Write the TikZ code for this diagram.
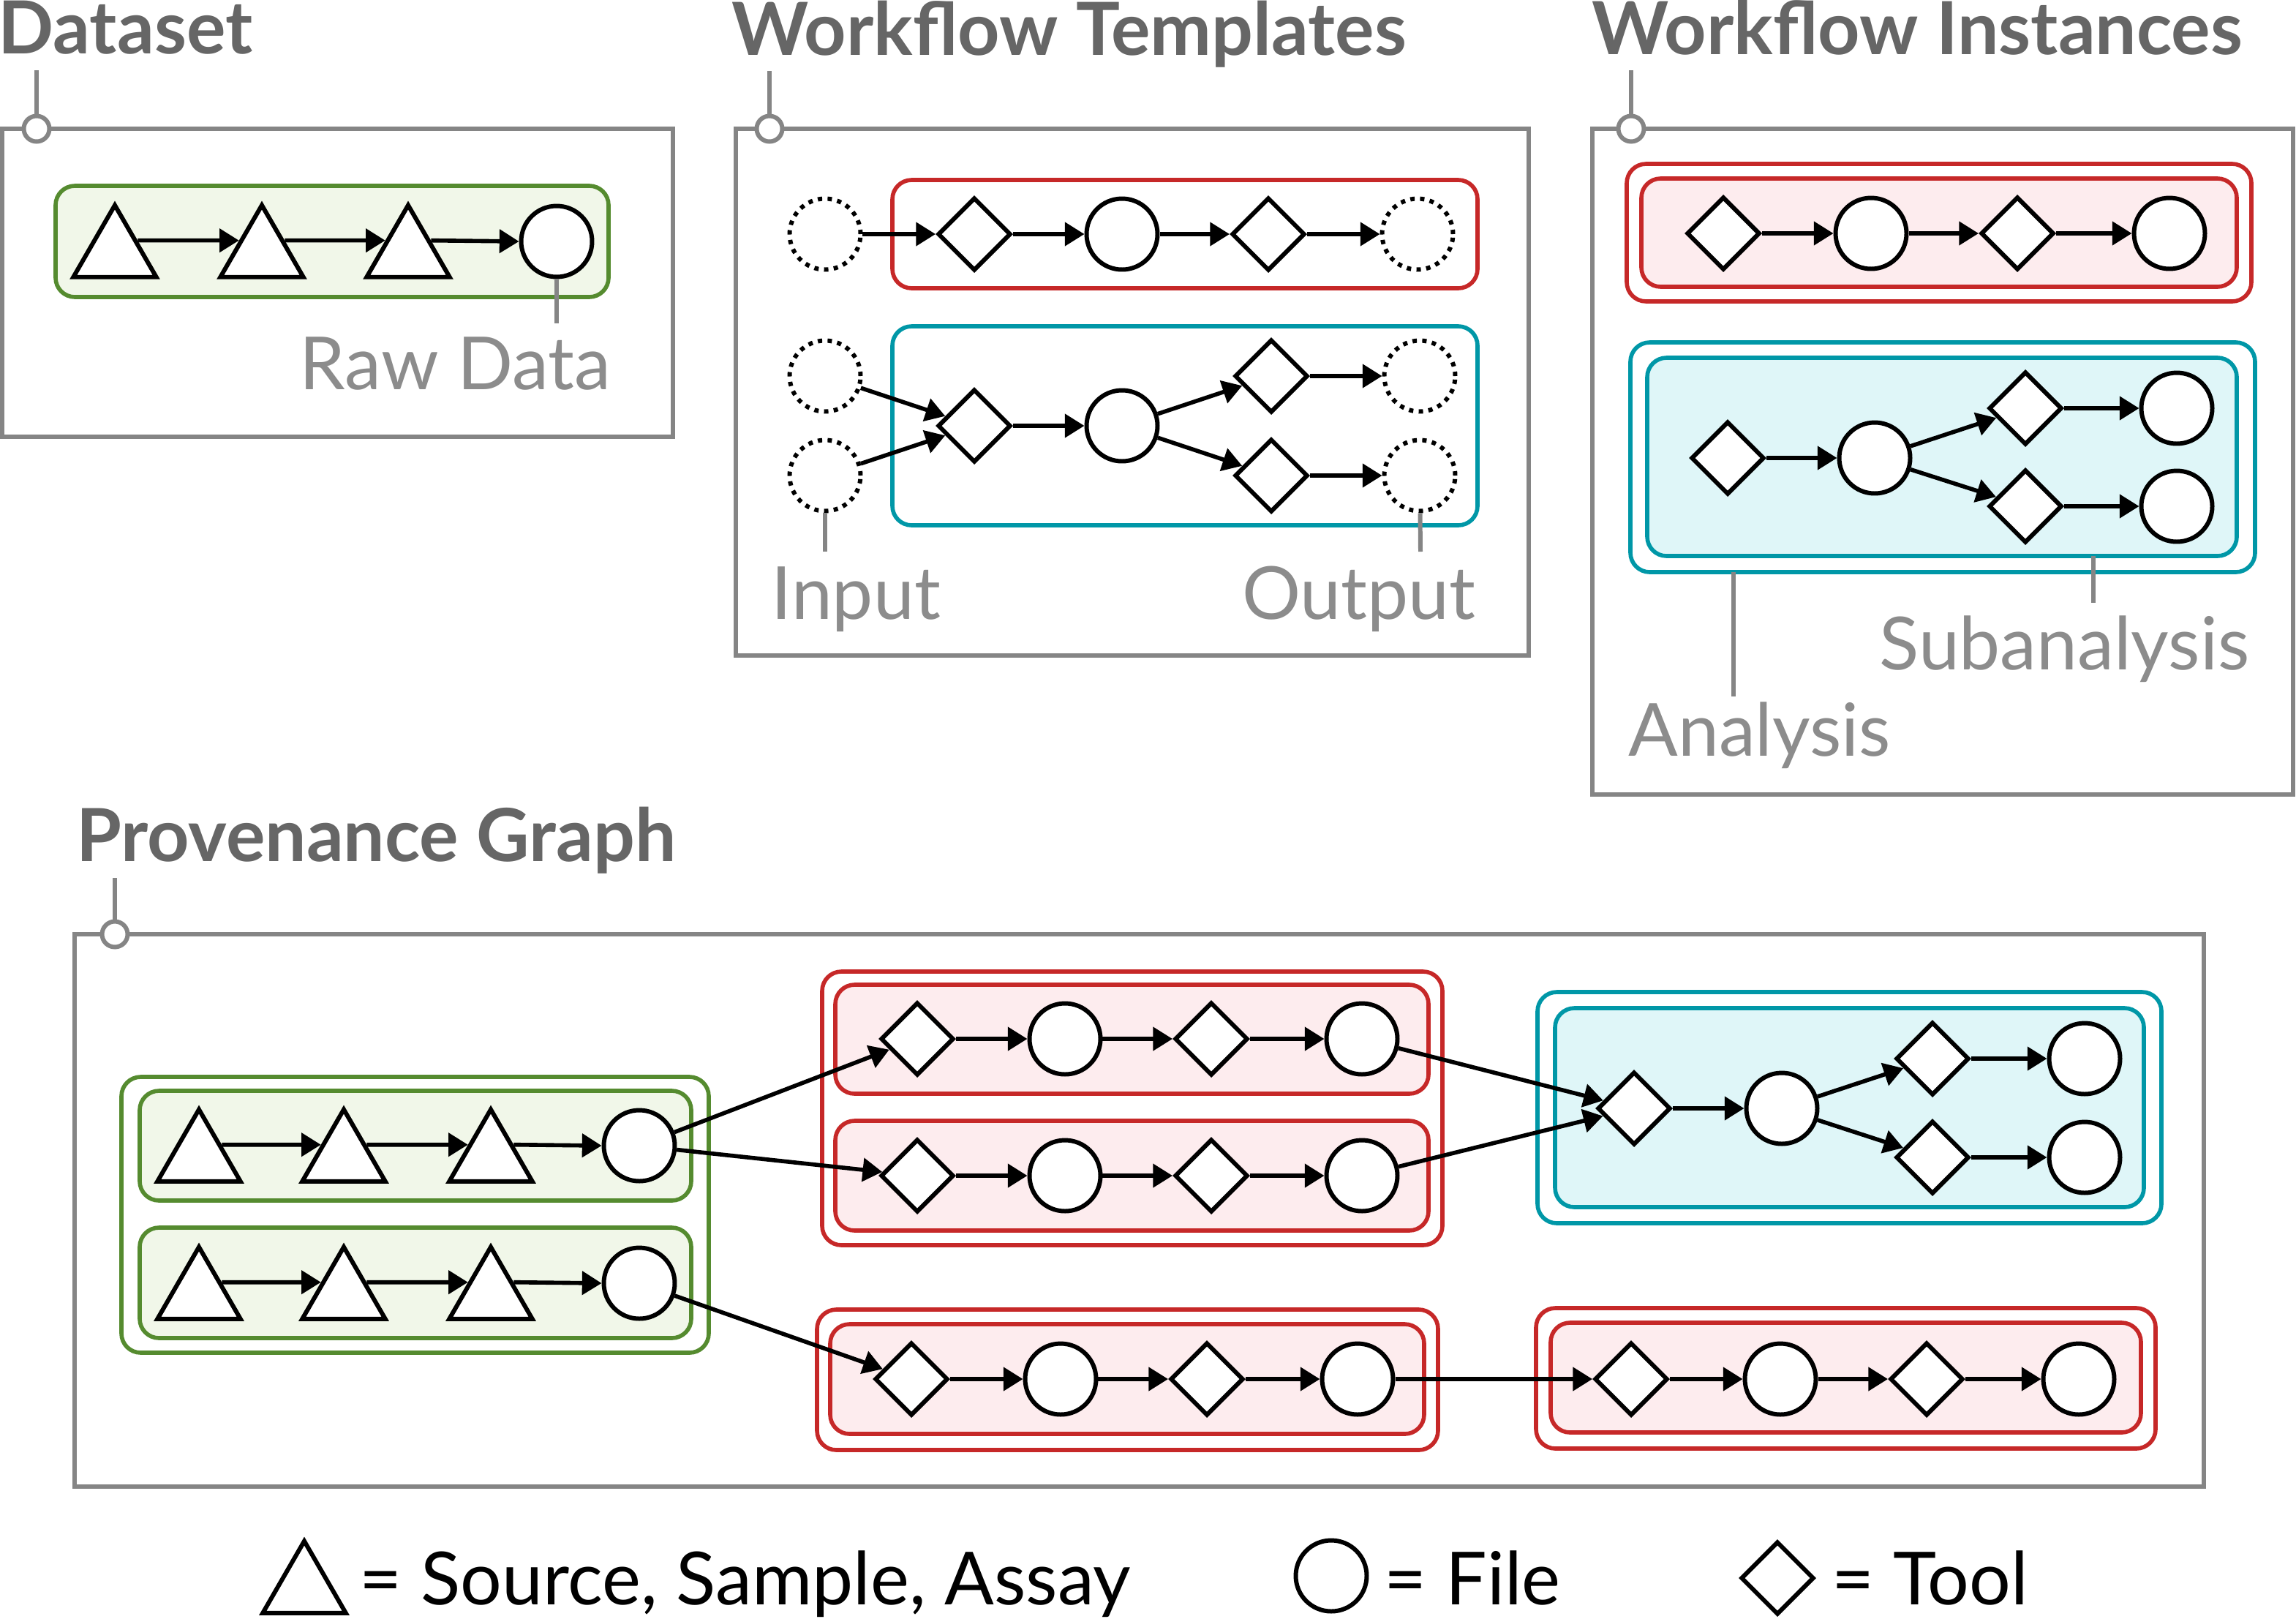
\documentclass[tikz,border=0pt]{standalone}
\usepackage{fontspec}
\setmainfont{Lato}
\usetikzlibrary{shapes.geometric,arrows.meta}
\definecolor{panelgray}{HTML}{858585}
\definecolor{headgray}{HTML}{666666}
\definecolor{notegray}{HTML}{8C8C8C}
\definecolor{wfred}{HTML}{C62828}
\definecolor{wfredfill}{HTML}{FDECEE}
\definecolor{wfteal}{HTML}{0097A7}
\definecolor{wftealfill}{HTML}{DFF6F8}
\definecolor{dsgreen}{HTML}{558B2F}
\definecolor{dsgreenfill}{HTML}{F1F7E9}
\begin{document}
\begin{tikzpicture}[x=0.02cm, y=-0.02cm,
  entity/.style={draw, fill=white, line width=1.7pt, regular polygon, regular polygon sides=3, minimum size=1.31cm, inner sep=0pt},
  file/.style={draw, fill=white, line width=1.7pt, circle, minimum size=0.97cm, inner sep=0pt},
  tool/.style={draw, fill=white, line width=1.7pt, diamond, minimum size=1cm, inner sep=0pt},
  slot/.style={draw, line width=1.7pt, dash pattern=on 1.7pt off 2.1pt, circle, minimum size=0.97cm, inner sep=0pt},
  arr/.style={-{Triangle[length=7.6pt, width=9pt]}, line width=1.6pt, black},
  panel/.style={draw=panelgray, line width=1.7pt},
  leader/.style={draw=panelgray, line width=1.7pt},
  knob/.style={circle, draw=panelgray, fill=white, line width=1.7pt, minimum size=0.35cm, inner sep=0pt},
  heading/.style={anchor=base west, inner sep=0pt, text=headgray, font=\fontsize{28.5}{34}\selectfont\bfseries},
  note/.style={inner sep=0pt, text=notegray, font=\fontsize{28.5}{34}\selectfont},
  keytext/.style={anchor=base west, inner sep=0pt, font=\fontsize{28.5}{34}\selectfont},
  green group/.style={draw=dsgreen, line width=1.6pt, rounded corners=7.5pt},
  red group/.style={draw=wfred, line width=1.6pt, rounded corners=7.5pt},
  teal group/.style={draw=wfteal, line width=1.6pt, rounded corners=7.5pt}]
  \useasboundingbox (0,0) rectangle (1569.5,1106);

  % Dataset
  \node[heading] (dshead) at (-1.5,36.7) {Dataset};
  \draw[panel] (1.5,88) rectangle (460,298.5);
  \coordinate (dsend) at (25,48);
  \node[knob] (dsknob) at (25,88) {};
  \draw[leader] (dsknob) -- (dsend);
  \draw[green group, fill=dsgreenfill] (38,127) rectangle (416,203);
  \node[entity] (ds1) at (78.5,173) {};
  \node[entity] (ds2) at (179,173) {};
  \node[entity] (ds3) at (279,173) {};
  \node[file] (dsraw) at (380.5,165) {};
  \path[arr]
  (ds1.29) edge (ds2.151)
  (ds2.29) edge (ds3.151)
  (ds3.29) edge (dsraw.west);
  \coordinate (rawend) at (380.5,221);
  \draw[leader] (dsraw) -- (rawend);
  \node[note, anchor=base east] (rawtext) at (418,266) {Raw Data};

  % Workflow Templates
  \node[heading] (wthead) at (500,37.5) {Workflow Templates};
  \draw[panel] (503,88) rectangle (1045,448);
  \coordinate (wtend) at (526,48.5);
  \node[knob] (wtknob) at (526,88) {};
  \draw[leader] (wtknob) -- (wtend);
  \draw[red group] (610,123) rectangle (1010,197);
  \draw[teal group] (610,223) rectangle (1010,359);
  \node[slot] (in1) at (564,160) {};
  \node[tool] (ta1) at (666,160) {};
  \node[file] (taf) at (767,160) {};
  \node[tool] (ta2) at (867,160) {};
  \node[slot] (out1) at (969,160) {};
  \node[slot] (in2) at (564,257) {};
  \node[slot] (in3) at (564,325) {};
  \node[tool] (tb1) at (666,291) {};
  \node[file] (tbf) at (767,291) {};
  \node[tool] (tb2) at (869,257) {};
  \node[tool] (tb3) at (869,325) {};
  \node[slot] (out2) at (970.5,257) {};
  \node[slot] (out3) at (970.5,325) {};
  \path[arr]
  (in1) edge (ta1)
  (ta1) edge (taf)
  (taf) edge (ta2)
  (ta2) edge (out1)
  (in2) edge (tb1)
  (in3) edge (tb1)
  (tb1) edge (tbf)
  (tbf) edge (tb2)
  (tbf) edge (tb3)
  (tb2) edge (out2)
  (tb3) edge (out3);
  \coordinate (inend) at (564,377);
  \coordinate (outend) at (971,377);
  \draw[leader] (in3) -- (inend);
  \draw[leader] (out3) -- (outend);
  \node[note, anchor=base west] (intext) at (527,423) {Input};
  \node[note, anchor=base east] (outtext) at (1009,423) {Output};

  % Workflow Instances
  \node[heading] (wihead) at (1088,37) {Workflow Instances};
  \draw[panel] (1088.5,88) rectangle (1567.5,543);
  \coordinate (wiend) at (1115,48);
  \node[knob] (wiknob) at (1115,88) {};
  \draw[leader] (wiknob) -- (wiend);
  \draw[red group] (1112,112) rectangle (1539,206);
  \draw[red group, fill=wfredfill] (1122,122) rectangle (1529,196);
  \draw[teal group] (1114.5,234) rectangle (1541.5,391);
  \draw[teal group, fill=wftealfill] (1126,244.5) rectangle (1529,380);
  \node[tool] (ia1) at (1178,159.5) {};
  \node[file] (iaf1) at (1279,159.5) {};
  \node[tool] (ia2) at (1379,159.5) {};
  \node[file] (iaf2) at (1483,159.5) {};
  \node[tool] (ib1) at (1181,313) {};
  \node[file] (ibf1) at (1281.5,313) {};
  \node[tool] (ib2) at (1384.5,279) {};
  \node[tool] (ib3) at (1384.5,346) {};
  \node[file] (ibf2) at (1488,279) {};
  \node[file] (ibf3) at (1488,346) {};
  \path[arr]
  (ia1) edge (iaf1)
  (iaf1) edge (ia2)
  (ia2) edge (iaf2)
  (ib1) edge (ibf1)
  (ibf1) edge (ib2)
  (ibf1) edge (ib3)
  (ib2) edge (ibf2)
  (ib3) edge (ibf3);
  \coordinate (antop) at (1185,391);
  \coordinate (anend) at (1185,476);
  \coordinate (subtop) at (1431,380);
  \coordinate (subend) at (1431,412);
  \draw[leader] (antop) -- (anend);
  \draw[leader] (subtop) -- (subend);
  \node[note, anchor=base west] (antext) at (1113,516.5) {Analysis};
  \node[note, anchor=base east] (subtext) at (1538,457.5) {Subanalysis};

  % Provenance Graph
  \node[heading] (pghead) at (52,588.5) {Provenance Graph};
  \draw[panel] (51,638.5) rectangle (1506.5,1016);
  \coordinate (pgend) at (78.5,600);
  \node[knob] (pgknob) at (78.5,638.5) {};
  \draw[leader] (pgknob) -- (pgend);
  \draw[green group] (83,736) rectangle (484.5,924.5);
  \draw[green group, fill=dsgreenfill] (95.5,745.5) rectangle (472.5,820.5);
  \draw[green group, fill=dsgreenfill] (95.5,839) rectangle (472.5,914.5);
  \draw[red group] (562,664) rectangle (986,851);
  \draw[red group, fill=wfredfill] (571,673) rectangle (976.5,747.5);
  \draw[red group, fill=wfredfill] (571,766) rectangle (976.5,841);
  \draw[teal group] (1051,678) rectangle (1477.5,836);
  \draw[teal group, fill=wftealfill] (1063,689) rectangle (1465.5,825);
  \draw[red group] (558.5,895) rectangle (983,991);
  \draw[red group, fill=wfredfill] (567.5,905) rectangle (973.5,980);
  \draw[red group] (1050,894) rectangle (1473.5,990);
  \draw[red group, fill=wfredfill] (1060,904) rectangle (1463.5,979);
  \node[entity] (sa1) at (136,791) {};
  \node[entity] (sa2) at (235,791) {};
  \node[entity] (sa3) at (335.5,791) {};
  \node[file] (saf) at (437,783) {};
  \node[entity] (sb1) at (136,885) {};
  \node[entity] (sb2) at (235,885) {};
  \node[entity] (sb3) at (335.5,885) {};
  \node[file] (sbf) at (437,877) {};
  \node[tool] (ra1) at (627,710) {};
  \node[file] (raf1) at (728,710) {};
  \node[tool] (ra2) at (828,710) {};
  \node[file] (raf2) at (931,710) {};
  \node[tool] (rb1) at (627,803.5) {};
  \node[file] (rbf1) at (728,803.5) {};
  \node[tool] (rb2) at (828,803.5) {};
  \node[file] (rbf2) at (931,803.5) {};
  \node[tool] (ta) at (1117,757.5) {};
  \node[file] (taf1) at (1218,757.5) {};
  \node[tool] (tb) at (1321,723.5) {};
  \node[tool] (tc) at (1321,791) {};
  \node[file] (tbf1) at (1425,723.5) {};
  \node[file] (tcf1) at (1425,791) {};
  \node[tool] (rc1) at (623,942.5) {};
  \node[file] (rcf1) at (725,942.5) {};
  \node[tool] (rc2) at (825,942.5) {};
  \node[file] (rcf2) at (928,942.5) {};
  \node[tool] (rd1) at (1115,942.5) {};
  \node[file] (rdf1) at (1217,942.5) {};
  \node[tool] (rd2) at (1317,942.5) {};
  \node[file] (rdf2) at (1421,942.5) {};
  \path[arr]
  (sa1.29) edge (sa2.151)
  (sa2.29) edge (sa3.151)
  (sa3.29) edge (saf.west)
  (sb1.29) edge (sb2.151)
  (sb2.29) edge (sb3.151)
  (sb3.29) edge (sbf.west)
  (saf) edge (ra1)
  (saf) edge (rb1)
  (sbf) edge (rc1)
  (ra1) edge (raf1)
  (raf1) edge (ra2)
  (ra2) edge (raf2)
  (rb1) edge (rbf1)
  (rbf1) edge (rb2)
  (rb2) edge (rbf2)
  (raf2) edge (ta)
  (rbf2) edge (ta)
  (ta) edge (taf1)
  (taf1) edge (tb)
  (taf1) edge (tc)
  (tb) edge (tbf1)
  (tc) edge (tcf1)
  (rc1) edge (rcf1)
  (rcf1) edge (rc2)
  (rc2) edge (rcf2)
  (rcf2) edge (rd1)
  (rd1) edge (rdf1)
  (rdf1) edge (rd2)
  (rd2) edge (rdf2);

  % Legend
  \node[entity] (keysample) at (208,1086) {};
  \node[keytext] (keysampletext) at (245.5,1096.5) {= Source, Sample, Assay};
  \node[file] (keyfile) at (910,1077) {};
  \node[keytext] (keyfiletext) at (946,1096.5) {= File};
  \node[tool] (keytool) at (1215,1078.5) {};
  \node[keytext] (keytooltext) at (1252,1096.5) {= Tool};
\end{tikzpicture}
\end{document}
